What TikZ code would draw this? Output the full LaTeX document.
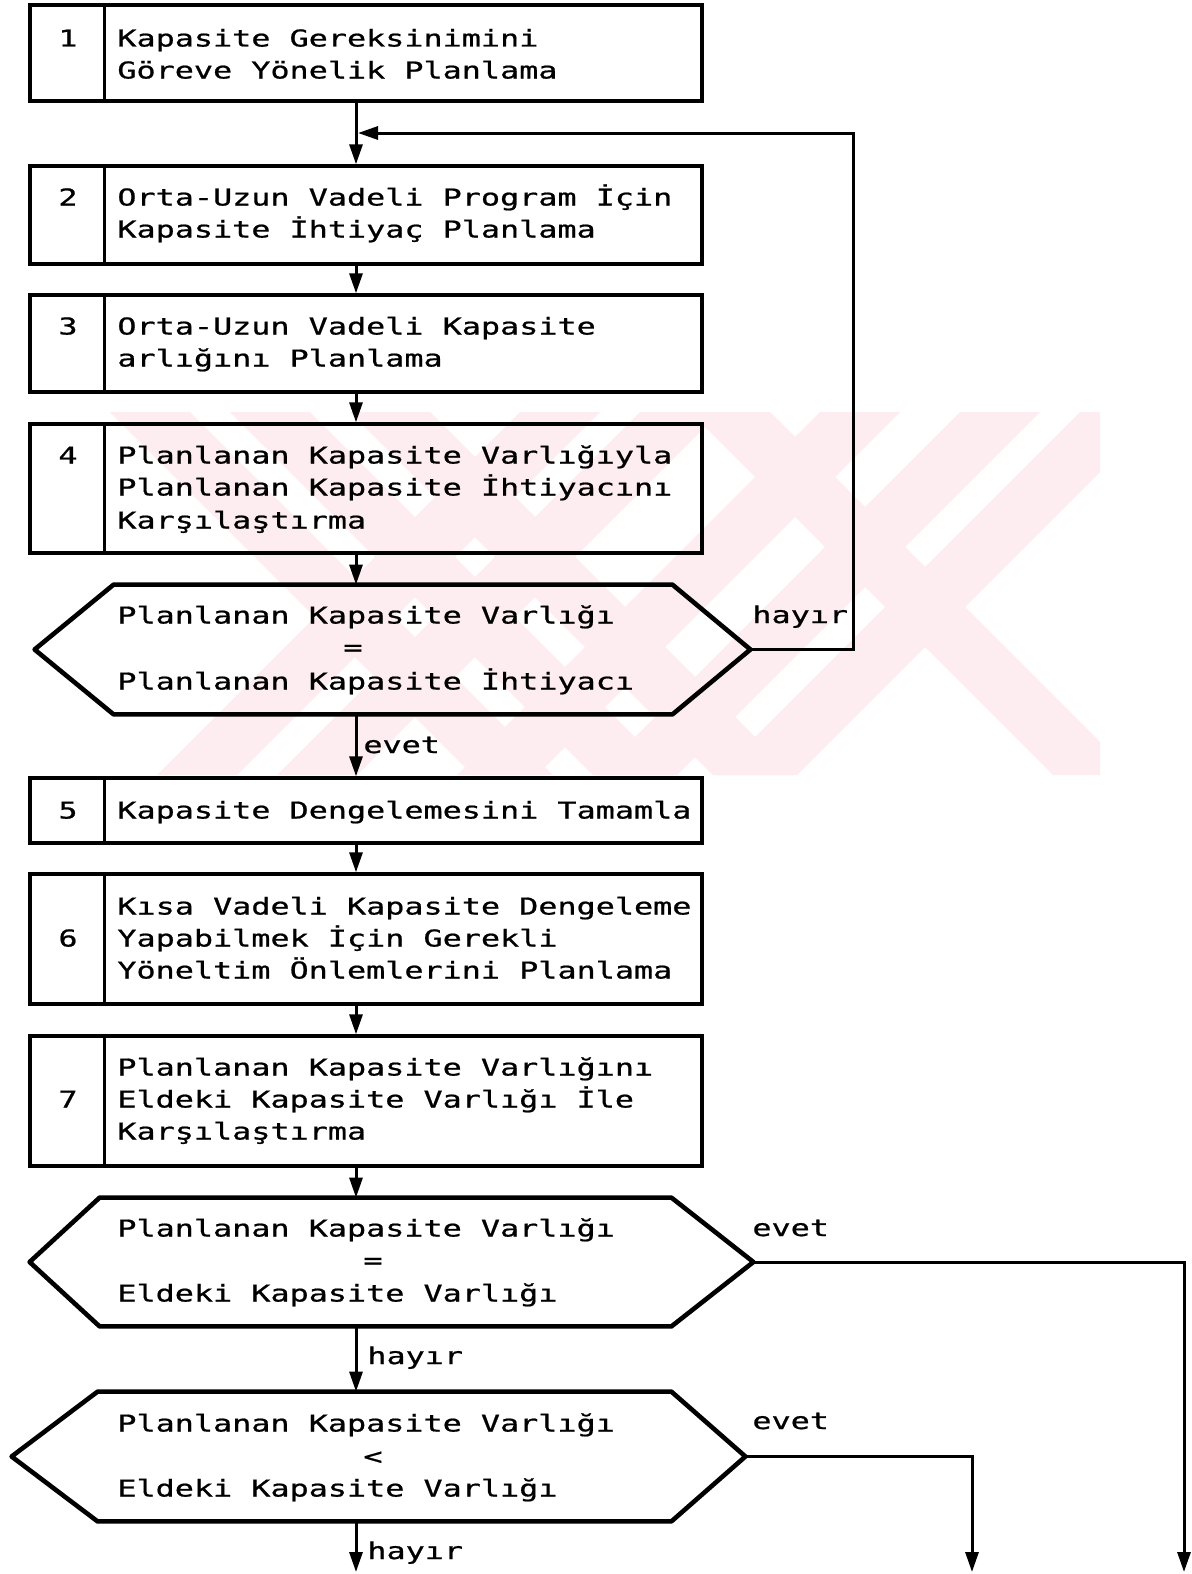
\documentclass[tikz,border=0pt]{standalone}
\usepackage{fontspec}
\newfontfamily\dotfont[FakeStretch=1.37,FakeBold=0.8]{DejaVu Sans Mono}
\usetikzlibrary{arrows.meta}

\definecolor{wmpink}{RGB}{253,236,240}

% hexagonal decision outline: node name, left inset, right inset
\newcommand\drawhex[3]{%
  \draw[hexline] (#1.west) -- ([xshift=#2]#1.north west) -- ([xshift=-#3]#1.north east)
    -- (#1.east) -- ([xshift=-#3]#1.south east) -- ([xshift=#2]#1.south west) -- cycle;}

\begin{document}
\begin{tikzpicture}[x=0.5pt,y=-0.5pt,
  txt/.style={font=\dotfont\fontsize{11.6pt}{14pt}\selectfont, anchor=base west, inner sep=0pt},
  num/.style={font=\dotfont\fontsize{11.6pt}{14pt}\selectfont, anchor=base, inner sep=0pt},
  stepbox/.style={draw, line width=1.7pt, minimum width=336pt, inner sep=0pt},
  divider/.style={line width=1.7pt},
  hexarea/.style={inner sep=0pt, draw=none},
  hexline/.style={line width=2.3pt, line join=round},
  flow/.style={line width=1.5pt, -{Triangle[length=10pt,width=6.5pt]}},
]
\useasboundingbox (0,0) rectangle (1192,1574);
\fill[white] (0,0) rectangle (1192,1574);

% pale background emblem
\begin{scope}
  \clip (100,412) rectangle (1100,775);
  \foreach \a in {110,230,350,690} {
    \fill[wmpink] (\a,412) -- (\a+80,412) -- (\a+443,775) -- (\a+363,775) -- cycle;
  }
  \foreach \a in {520,640,820,960,1080} {
    \fill[wmpink] (\a,412) -- (\a+80,412) -- (\a-283,775) -- (\a-363,775) -- cycle;
  }
\end{scope}

% process steps
\node[stepbox, minimum height=48pt]   (b1) at (366,53)    {};
\node[stepbox, minimum height=49pt]   (b2) at (366,215)   {};
\node[stepbox, minimum height=48.5pt] (b3) at (366,343.5) {};
\node[stepbox, minimum height=64.5pt] (b4) at (366,488.5) {};
\node[stepbox, minimum height=32.5pt] (b5) at (366,810.5) {};
\node[stepbox, minimum height=65pt]   (b6) at (366,939)   {};
\node[stepbox, minimum height=65pt]   (b7) at (366,1101)  {};
\foreach \b in {b1,b2,b3,b4,b5,b6,b7}
  \draw[divider] ([xshift=38pt]\b.north west) -- ([xshift=38pt]\b.south west);

% decisions
\node[hexarea, minimum width=357.5pt, minimum height=64.5pt] (h1) at (392.5,649.5) {};
\node[hexarea, minimum width=361.5pt, minimum height=64pt]   (h2) at (391.5,1262)  {};
\node[hexarea, minimum width=366.5pt, minimum height=64.5pt] (h3) at (378.5,1456.5) {};
\drawhex{h1}{39.5pt}{39pt}
\drawhex{h2}{35pt}{41pt}
\drawhex{h3}{43pt}{37pt}

% step numbers
\node[num] (n1) at (68,46.5)   {1};
\node[num] (n2) at (68,205.5)  {2};
\node[num] (n3) at (68,334.5)  {3};
\node[num] (n4) at (68,463.5)  {4};
\node[num] (n5) at (68,818.5)  {5};
\node[num] (n6) at (68,946.5)  {6};
\node[num] (n7) at (68,1107.5) {7};

% step texts
\node[txt] (t1a) at (117,46.5)  {Kapasite Gereksinimini};
\node[txt] (t1b) at (117,78.5)  {Göreve Yönelik Planlama};
\node[txt] (t2a) at (117,205.5) {Orta-Uzun Vadeli Program İçin};
\node[txt] (t2b) at (117,237.5) {Kapasite İhtiyaç Planlama};
\node[txt] (t3a) at (117,334.5) {Orta-Uzun Vadeli Kapasite};
\node[txt] (t3b) at (117,366.5) {arlığını Planlama};
\node[txt] (t4a) at (117,463.5) {Planlanan Kapasite Varlığıyla};
\node[txt] (t4b) at (117,495.5) {Planlanan Kapasite İhtiyacını};
\node[txt] (t4c) at (117,528.5) {Karşılaştırma};
\node[txt] (t5a) at (117,818.5) {Kapasite Dengelemesini Tamamla};
\node[txt] (t6a) at (117,914.5) {Kısa Vadeli Kapasite Dengeleme};
\node[txt] (t6b) at (117,946.5) {Yapabilmek İçin Gerekli};
\node[txt] (t6c) at (117,978.5) {Yöneltim Önlemlerini Planlama};
\node[txt] (t7a) at (117,1075.5) {Planlanan Kapasite Varlığını};
\node[txt] (t7b) at (117,1107.5) {Eldeki Kapasite Varlığı İle};
\node[txt] (t7c) at (117,1139.5) {Karşılaştırma};

% decision texts
\node[txt] (q1a) at (117,623.5) {Planlanan Kapasite Varlığı};
\node[num] (q1b) at (353,655.5) {=};
\node[txt] (q1c) at (117,689.5) {Planlanan Kapasite İhtiyacı};
\node[txt] (q2a) at (117,1236.5) {Planlanan Kapasite Varlığı};
\node[num] (q2b) at (373,1268.5) {=};
\node[txt] (q2c) at (117,1301.5) {Eldeki Kapasite Varlığı};
\node[txt] (q3a) at (117,1431.5) {Planlanan Kapasite Varlığı};
\node[num] (q3b) at (373,1464.5) {<};
\node[txt] (q3c) at (117,1496.5) {Eldeki Kapasite Varlığı};

% free ends of connectors
\coordinate (j1)   at (358,133);
\coordinate (fb)   at (853,133);
\coordinate (out1) at (1184,1572);
\coordinate (out2) at (972,1572);
\coordinate (out3) at (356,1572);

% connectors
\draw[flow] ([xshift=-5pt]b1.south) -- ([xshift=-5pt]b2.north);
\draw[flow] ([xshift=-5pt]b2.south) -- ([xshift=-5pt]b3.north);
\draw[flow] ([xshift=-5pt]b3.south) -- ([xshift=-5pt]b4.north);
\draw[flow] ([xshift=-5pt]b4.south) -- ([xshift=-5pt]b4.south |- h1.north);
\draw[flow] ([xshift=-5pt]b5.north |- h1.south) -- ([xshift=-5pt]b5.north);
\draw[flow] ([xshift=-5pt]b5.south) -- ([xshift=-5pt]b6.north);
\draw[flow] ([xshift=-5pt]b6.south) -- ([xshift=-5pt]b7.north);
\draw[flow] ([xshift=-5pt]b7.south) -- ([xshift=-5pt]b7.south |- h2.north);
\draw[flow] (out3 |- h2.south) -- (out3 |- h3.north);
\draw[flow] (out3 |- h3.south) -- (out3);
\draw[flow] (h1.east) -| (fb) -- (j1);
\draw[flow] (h2.east) -| (out1);
\draw[flow] (h3.east) -| (out2);

% branch labels
\node[txt] (l1) at (752,623)  {hayır};
\node[txt] (l2) at (363,753)  {evet};
\node[txt] (l3) at (752,1236) {evet};
\node[txt] (l4) at (367,1364) {hayır};
\node[txt] (l5) at (752,1429) {evet};
\node[txt] (l6) at (367,1559) {hayır};
\end{tikzpicture}
\end{document}
